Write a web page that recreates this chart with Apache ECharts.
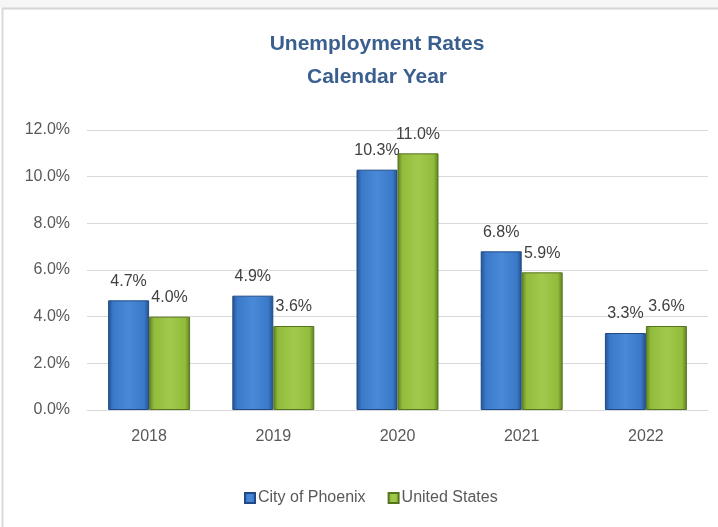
<!DOCTYPE html>
<html>
<head>
<meta charset="utf-8">
<title>Unemployment Rates</title>
<script src="https://cdn.jsdelivr.net/npm/echarts@6/dist/echarts.min.js"></script>
<style>
  html, body { margin: 0; padding: 0; background: #ffffff; }
  #chart { width: 718px; height: 527px; }
</style>
</head>
<body>
<div id="chart"></div>
<script>
// Calendar years shown on the x axis
const years = ['2018', '2019', '2020', '2021', '2022'];
// Unemployment rate, percent
const phoenix = [4.7, 4.9, 10.3, 6.8, 3.3];
const unitedStates = [4.0, 3.6, 11.0, 5.9, 3.6];
// Value axis ticks, percent
const yTicks = [0, 2, 4, 6, 8, 10, 12];

const FONT = "'Liberation Sans', Arial, sans-serif";

// Horizontal shading: darker sides, lighter middle, for a bevelled look
function barFill(edge, mid, light) {
  return new echarts.graphic.LinearGradient(0, 0, 1, 0, [
    { offset: 0, color: edge },
    { offset: 0.12, color: mid },
    { offset: 0.5, color: light },
    { offset: 0.88, color: mid },
    { offset: 1, color: edge }
  ]);
}

const chart = echarts.init(document.getElementById('chart'), null, { renderer: 'canvas' });

const valueLabel = {
  show: true, position: 'top', distance: 11,
  fontFamily: FONT, fontSize: 16, color: '#404040',
  formatter: p => p.value.toFixed(1) + '%'
};

chart.setOption({
  backgroundColor: '#ffffff',
  animation: false,
  graphic: [
    { type: 'rect', shape: { x: 0, y: 0, width: 718, height: 8 }, style: { fill: '#f6f6f6' }, silent: true },
    { type: 'line', shape: { x1: 2, y1: 8.5, x2: 718, y2: 8.5 }, style: { stroke: '#d4d4d4', lineWidth: 2 }, silent: true },
    { type: 'line', shape: { x1: 2.5, y1: 8, x2: 2.5, y2: 527 }, style: { stroke: '#d9d9d9', lineWidth: 2 }, silent: true }
  ],
  title: {
    text: 'Unemployment Rates\nCalendar Year',
    left: 372,
    textAlign: 'center',
    top: 23,
    textStyle: {
      fontFamily: FONT,
      fontSize: 21,
      fontWeight: 'bold',
      color: '#3a5f8f',
      lineHeight: 33
    }
  },
  legend: {
    bottom: 16,
    left: 239,
    itemWidth: 10,
    itemHeight: 10,
    itemGap: 22,
    icon: 'rect',
    textStyle: { fontFamily: FONT, fontSize: 16, color: '#595959', padding: [0, 0, 0, -2] },
    data: ['City of Phoenix', 'United States']
  },
  grid: { left: 87, right: 10, top: 130, bottom: 117, containLabel: false },
  xAxis: {
    type: 'category',
    data: years,
    axisLine: { show: true, lineStyle: { color: '#d9d9d9', width: 1 } },
    axisTick: { show: false },
    axisLabel: { fontFamily: FONT, fontSize: 16, color: '#595959', margin: 19 }
  },
  yAxis: {
    type: 'value',
    min: yTicks[0],
    max: yTicks[yTicks.length - 1],
    interval: yTicks[1] - yTicks[0],
    axisLine: { show: false },
    axisTick: { show: false },
    splitLine: { lineStyle: { color: '#d9d9d9', width: 1 } },
    axisLabel: {
      fontFamily: FONT, fontSize: 16, color: '#595959', margin: 17,
      formatter: v => v.toFixed(1) + '%'
    }
  },
  series: [
    {
      name: 'City of Phoenix',
      type: 'bar',
      data: phoenix,
      barGap: '0%',
      barCategoryGap: '34%',
      itemStyle: {
        color: barFill('#24508f', '#3a78c8', '#4a88d8'),
        borderColor: '#1f4a85',
        borderWidth: 1
      },
      label: valueLabel
    },
    {
      name: 'United States',
      type: 'bar',
      data: unitedStates,
      itemStyle: {
        color: barFill('#5f7f22', '#92bc3c', '#a2c94c'),
        borderColor: '#56741e',
        borderWidth: 1
      },
      label: valueLabel
    }
  ]
});
</script>
</body>
</html>
